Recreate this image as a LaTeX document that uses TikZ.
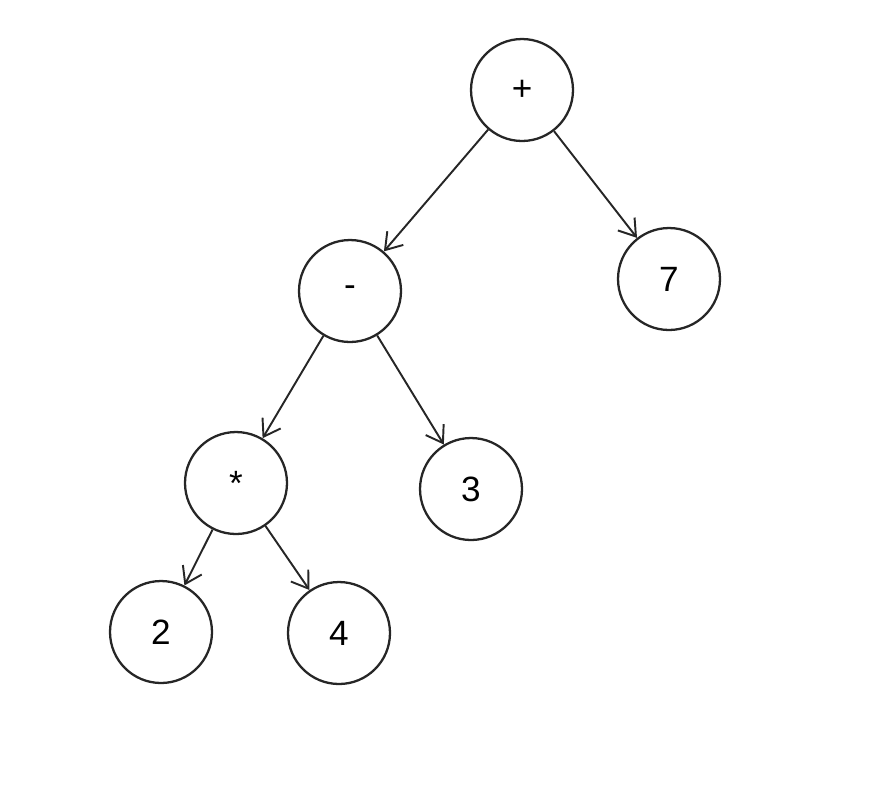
\documentclass[tikz,border=0pt]{standalone}
\usepackage{fontspec}
\setmainfont{Liberation Sans}
\usetikzlibrary{arrows.meta}
\begin{document}
\begin{tikzpicture}[x=0.02cm,y=-0.02cm,
  nd/.style={draw=black!85,line width=1.3pt,circle,minimum size=2.04cm,inner sep=0pt,font=\fontsize{20}{24}\selectfont},
  ar/.style={draw=black!85,line width=1.1pt,-{Straight Barb[length=9pt,width=12pt]}}]
\useasboundingbox (0,0) rectangle (874,789);
\node[nd] (p) at (522,90) {+};
\node[nd] (s) at (669,279) {7};
\node[nd] (m) at (350,291) {-};
\node[nd] (t) at (236,483) {*};
\node[nd] (h) at (471,489) {3};
\node[nd] (a) at (161,632) {2};
\node[nd] (b) at (339,633) {4};
\draw[ar] (p) -- (m);
\draw[ar] (p) -- (s);
\draw[ar] (m) -- (t);
\draw[ar] (m) -- (h);
\draw[ar] (t) -- (a);
\draw[ar] (t) -- (b);
\end{tikzpicture}
\end{document}
